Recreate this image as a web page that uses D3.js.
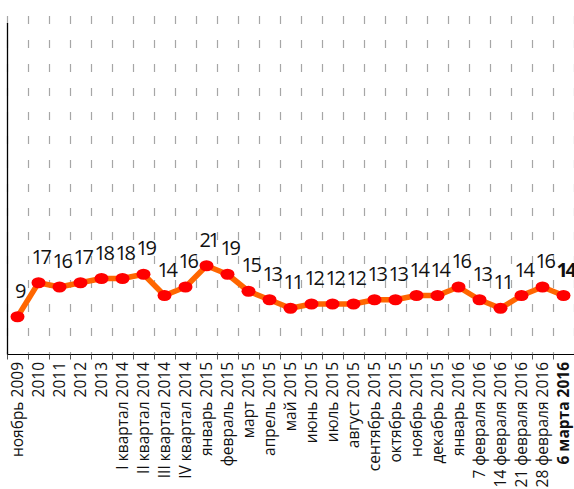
<!DOCTYPE html>
<html><head><meta charset="utf-8">
<script src="https://cdn.jsdelivr.net/npm/d3@7"></script>
<style>
html,body{margin:0;padding:0;background:#fff;}
svg{display:block;}
</style></head>
<body>
<svg id="chart" width="574" height="489"></svg>
<script>
const categories = ["ноябрь 2009","2010","2011","2012","2013","I квартал 2014","II квартал 2014","III квартал 2014","IV квартал 2014","январь 2015","февраль 2015","март 2015","апрель 2015","май 2015","июнь 2015","июль 2015","август 2015","сентябрь 2015","октябрь 2015","ноябрь 2015","декабрь 2015","январь 2016","7 февраля 2016","14 февраля 2016","21 февраля 2016","28 февраля 2016","6 марта 2016"];
const values = [9,17,16,17,18,18,19,14,16,21,19,15,13,11,12,12,12,13,13,14,14,16,13,11,14,16,14];
const yDomain = [0, 78];

const svg = d3.select("#chart");
const x = d3.scaleBand().domain(categories).range([7, 574]).padding(0);
const y = d3.scaleLinear().domain(yDomain).range([355, 23.5]);
const axisY = 354.5;

// gridlines at band boundaries
const bounds = categories.map(c => x(c)).concat([x(categories[categories.length-1]) + x.bandwidth()]);
svg.append("g").selectAll("line").data(bounds).join("line")
  .attr("x1", d => d + 0.5).attr("x2", d => d + 0.5)
  .attr("y1", -8).attr("y2", axisY)
  .attr("stroke", "#a6a6a6").attr("stroke-width", 1.2)
  .attr("stroke-dasharray", "8,16");

// y axis line
svg.append("line").attr("x1", 7.5).attr("x2", 7.5).attr("y1", 23).attr("y2", axisY)
  .attr("stroke", "#000").attr("stroke-width", 1.3);

// x axis line + ticks
svg.append("line").attr("x1", 7).attr("x2", 574).attr("y1", axisY).attr("y2", axisY)
  .attr("stroke", "#000").attr("stroke-width", 1.2);
svg.append("g").selectAll("line").data(bounds).join("line")
  .attr("x1", d => d + 0.5).attr("x2", d => d + 0.5)
  .attr("y1", axisY).attr("y2", axisY + 5)
  .attr("stroke", "#555").attr("stroke-width", 1);

// tick labels
svg.append("g").selectAll("text").data(categories).join("text")
  .attr("transform", d => `translate(${x(d) + x.bandwidth()/2 + 5.5},362) rotate(-90)`)
  .attr("text-anchor", "end")
  .attr("font-family", "'Open Sans', sans-serif")
  .attr("font-size", 15.5)
  .attr("font-weight", (d, i) => i === categories.length - 1 ? "bold" : "normal")
  .attr("fill", "#111")
  .text(d => d);

// line
const line = d3.line().x((d, i) => x(categories[i]) + x.bandwidth()/2).y(d => y(d));
svg.append("path").datum(values).attr("d", line)
  .attr("fill", "none").attr("stroke", "#ff6600").attr("stroke-width", 5.5)
  .attr("stroke-linejoin", "round");

// markers
svg.append("g").selectAll("ellipse").data(values).join("ellipse")
  .attr("cx", (d, i) => x(categories[i]) + x.bandwidth()/2)
  .attr("cy", d => y(d))
  .attr("rx", 7).attr("ry", 5.5)
  .attr("fill", "#ff0000");

// value labels
svg.append("g").selectAll("text").data(values).join("text")
  .attr("x", (d, i) => x(categories[i]) + x.bandwidth()/2 + 2)
  .attr("y", d => y(d) - 19)
  .attr("text-anchor", "middle")
  .attr("font-family", "'Open Sans', sans-serif")
  .attr("font-size", 20)
  .attr("letter-spacing", -2.5)
  .attr("font-weight", (d, i) => i === values.length - 1 ? "bold" : "normal")
  .attr("fill", "#111")
  .text(d => d);
</script>
</body></html>
